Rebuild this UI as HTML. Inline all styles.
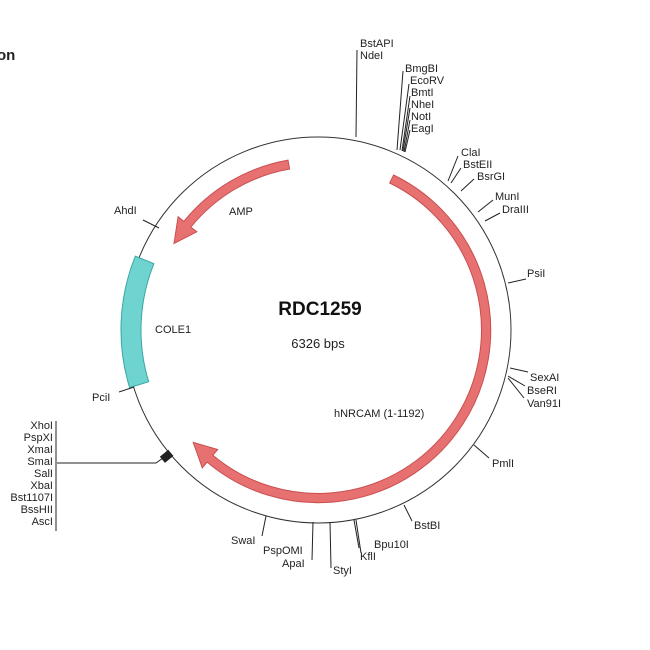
<!DOCTYPE html>
<html><head><meta charset="utf-8"><style>
html,body{margin:0;padding:0;background:#fff;width:650px;height:650px;overflow:hidden}
svg{display:block}
text{font-family:"Liberation Sans",sans-serif;font-size:11px;fill:#222}
</style></head><body>
<svg width="650" height="650" viewBox="0 0 650 650" xmlns="http://www.w3.org/2000/svg">
<text x="-3" y="60" style="font-size:15px;font-weight:bold">on</text>
<circle cx="318" cy="330" r="193" fill="none" stroke="#333" stroke-width="1"/>
<path id="teal" fill="#6fd3d0" stroke="#3aa6a3" stroke-width="1"/>
<path id="amp" fill="#e77171" stroke="#c94f4f" stroke-width="1"/>
<path id="hn" fill="#e77171" stroke="#c94f4f" stroke-width="1"/>
<g stroke="#222" stroke-width="1" fill="none">
<line x1="357" y1="50" x2="356" y2="137"/>
<line x1="403" y1="71" x2="397" y2="150"/>
<line x1="409" y1="84" x2="400" y2="150"/>
<line x1="410" y1="96" x2="402" y2="151"/>
<line x1="410" y1="108" x2="403" y2="151"/>
<line x1="410" y1="120" x2="404" y2="152"/>
<line x1="410" y1="130" x2="405" y2="152"/>
<line x1="458" y1="156" x2="448" y2="181"/>
<line x1="461" y1="168" x2="451" y2="183"/>
<line x1="474" y1="179" x2="461" y2="191"/>
<line x1="493" y1="200" x2="478" y2="212"/>
<line x1="500" y1="213" x2="485" y2="221"/>
<line x1="508" y1="283" x2="526" y2="279"/>
<line x1="510" y1="368" x2="528" y2="372"/>
<line x1="508" y1="376" x2="525" y2="386"/>
<line x1="508" y1="378" x2="524" y2="398"/>
<line x1="474" y1="445" x2="489" y2="458"/>
<line x1="404" y1="505" x2="412" y2="521"/>
<line x1="354" y1="520" x2="359" y2="548"/>
<line x1="356" y1="520" x2="361" y2="553"/>
<line x1="330" y1="522" x2="331" y2="568"/>
<line x1="313" y1="522" x2="312" y2="560"/>
<line x1="266" y1="516" x2="262" y2="536"/>
<line x1="143" y1="220" x2="159" y2="228"/>
<line x1="119" y1="392" x2="134" y2="387"/>
<line x1="56" y1="421" x2="56" y2="531"/>
<polyline points="57,463 156,463 163,458"/>
</g>
<g transform="rotate(-40 167 456)"><rect x="161" y="452" width="11" height="8" fill="#222"/></g>
<text x="360" y="47">BstAPI</text><text x="360" y="59">NdeI</text>
<text x="405" y="72">BmgBI</text><text x="410" y="84">EcoRV</text><text x="411" y="96">BmtI</text>
<text x="411" y="108">NheI</text><text x="411" y="120">NotI</text><text x="411" y="132">EagI</text>
<text x="461" y="156">ClaI</text><text x="463" y="168">BstEII</text><text x="477" y="180">BsrGI</text>
<text x="495" y="200">MunI</text><text x="502" y="213">DraIII</text>
<text x="527" y="277">PsiI</text>
<text x="530" y="381">SexAI</text><text x="527" y="394">BseRI</text><text x="527" y="407">Van91I</text>
<text x="492" y="467">PmlI</text><text x="414" y="529">BstBI</text>
<text x="374" y="548">Bpu10I</text><text x="360" y="560">KflI</text><text x="333" y="574">StyI</text>
<text x="263" y="554">PspOMI</text><text x="282" y="567">ApaI</text><text x="231" y="544">SwaI</text>
<text x="92" y="401">PciI</text><text x="114" y="214">AhdI</text>
<g text-anchor="end">
<text x="53" y="429">XhoI</text><text x="53" y="441">PspXI</text><text x="53" y="453">XmaI</text>
<text x="53" y="465">SmaI</text><text x="53" y="477">SalI</text><text x="53" y="489">XbaI</text>
<text x="53" y="501">Bst1107I</text><text x="53" y="513">BssHII</text><text x="53" y="525">AscI</text>
</g>
<text x="229" y="215">AMP</text>
<text x="155" y="333">COLE1</text>
<text x="334" y="417">hNRCAM (1-1192)</text>
<text x="320" y="315" text-anchor="middle" style="font-size:19px;font-weight:bold;fill:#111">RDC1259</text>
<text x="318" y="348" text-anchor="middle" style="font-size:13px">6326 bps</text>
</svg>
<script>
var cx=318,cy=330;
function P(r,a){a=a*Math.PI/180;return [(cx+r*Math.sin(a)).toFixed(1),(cy-r*Math.cos(a)).toFixed(1)].join(',');}
function band(r1,r2,a1,a2){var L=Math.abs(a2-a1)>180?1:0,s=a2>a1?1:0;
return 'M'+P(r2,a1)+' A'+r2+','+r2+' 0 '+L+' '+s+' '+P(r2,a2)+' L'+P(r1,a2)+' A'+r1+','+r1+' 0 '+L+' '+(1-s)+' '+P(r1,a1)+' Z';}
function arrow(r,w,hw,a1,a2,hl){var d=a2>a1?1:-1,ab=a2-d*hl,L=Math.abs(ab-a1)>180?1:0,s=d>0?1:0;
var ro=r+w/2,ri=r-w/2;
return 'M'+P(ro,a1)+' A'+ro+','+ro+' 0 '+L+' '+s+' '+P(ro,ab)+' L'+P(r+hw/2,ab)+' L'+P(r,a2)+' L'+P(r-hw/2,ab)+' L'+P(ri,ab)+' A'+ri+','+ri+' 0 '+L+' '+(1-s)+' '+P(ri,a1)+' Z';}
document.getElementById('teal').setAttribute('d',band(177,197,-68,-107));
document.getElementById('amp').setAttribute('d',arrow(168,9,24,-10,-59,8));
document.getElementById('hn').setAttribute('d',arrow(168,9,24,26,228,8));
</script>
</body></html>
